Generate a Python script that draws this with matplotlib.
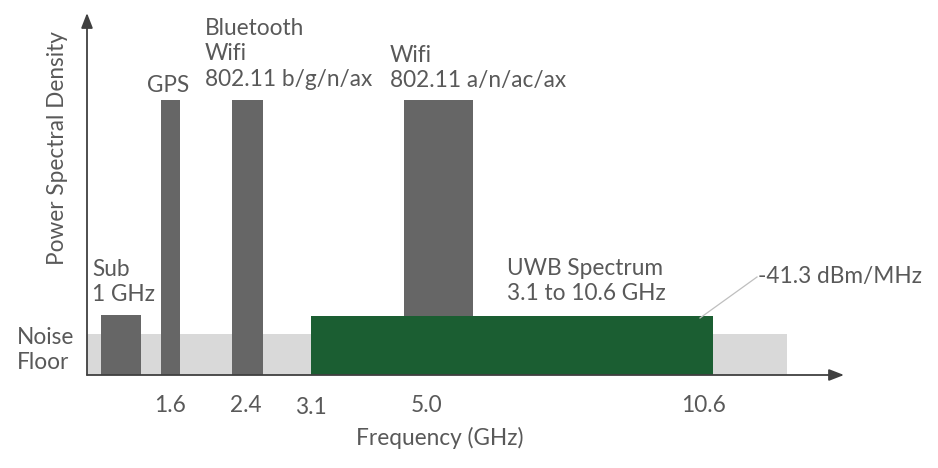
import matplotlib
matplotlib.use("Agg")
import matplotlib.pyplot as plt

plt.rcParams['font.family'] = ['Lato', 'DejaVu Sans']

# Schematic diagram units (horizontal position along the sketch, vertical level)
band_names = ["Sub 1 GHz", "GPS", "Bluetooth/Wifi 2.4", "Wifi 5"]
band_start = [101, 161, 232, 404]
band_end = [141, 180, 263, 473]
band_level = [153, 368, 368, 368]

baseline = 93
noise_start, noise_end, noise_level = 87, 787, 134
uwb_start, uwb_end, uwb_level = 311, 713, 152

tick_pos = [170, 246, 311, 426, 703]
tick_labels = ["1.6", "2.4", "3.1", "5.0", "10.6"]

TXT = "#595959"
FS = 16.3

fig = plt.figure(figsize=(9.38, 4.68), dpi=100)
ax = fig.add_axes([0, 0, 1, 1])
ax.set_xlim(0, 938)
ax.set_ylim(0, 468)
ax.axis("off")

# noise floor
ax.bar(noise_start, noise_level - baseline, width=noise_end - noise_start,
       bottom=baseline, align="edge", color="#d9d9d9", zorder=1)
# interfering bands
for s, e, lv in zip(band_start, band_end, band_level):
    ax.bar(s, lv - baseline, width=e - s, bottom=baseline, align="edge",
           color="#666666", zorder=2)
# UWB
ax.bar(uwb_start, uwb_level - baseline, width=uwb_end - uwb_start,
       bottom=baseline, align="edge", color="#1b5e32", zorder=3)

# axes arrows
ax.annotate("", xy=(87, 455), xytext=(87, baseline),
            arrowprops=dict(arrowstyle="-|>,head_length=0.9,head_width=0.35",
                            color="#404040", lw=1.3, shrinkA=0, shrinkB=0), zorder=4)
ax.annotate("", xy=(844, baseline), xytext=(87, baseline),
            arrowprops=dict(arrowstyle="-|>,head_length=0.9,head_width=0.35",
                            color="#404040", lw=1.3, shrinkA=0, shrinkB=0), zorder=4)

# tick labels
for p, t in zip(tick_pos, tick_labels):
    yy = 60 if t == "3.1" else 63
    ax.text(p, yy, t, ha="center", va="center", fontsize=FS, color=TXT)

ax.text(440, 30, "Frequency (GHz)", ha="center", va="center", fontsize=FS, color=TXT)
ax.text(57, 320, "Power Spectral Density", ha="center", va="center",
        rotation=90, fontsize=FS, color=TXT)
ax.text(17, 118, "Noise\nFloor", ha="left", va="center", fontsize=FS,
        color=TXT, linespacing=1.25)
ax.text(92, 186, "Sub\n1 GHz", ha="left", va="center", fontsize=FS,
        color=TXT, linespacing=1.25)
ax.text(147, 382, "GPS", ha="left", va="center", fontsize=FS, color=TXT)
ax.text(205, 414, "Bluetooth\nWifi\n802.11 b/g/n/ax", ha="left", va="center",
        fontsize=FS, color=TXT, linespacing=1.25)
ax.text(390, 400, "Wifi\n802.11 a/n/ac/ax", ha="left", va="center",
        fontsize=FS, color=TXT, linespacing=1.25)
ax.text(507, 187, "UWB Spectrum\n3.1 to 10.6 GHz", ha="left", va="center",
        fontsize=FS, color=TXT, linespacing=1.25)

# leader line
ax.plot([700, 757], [150, 191], color="#bfbfbf", lw=0.9, zorder=5)
ax.text(758, 191, "-41.3 dBm/MHz", ha="left", va="center", fontsize=FS, color=TXT)

fig.savefig("out.png", dpi=100)
